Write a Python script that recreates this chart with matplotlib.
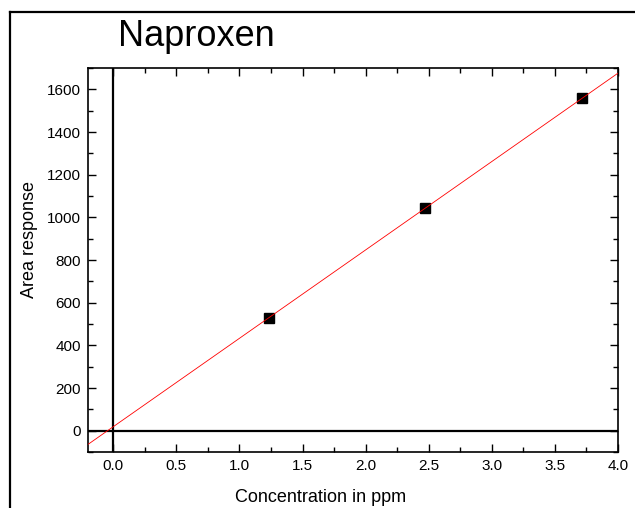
import numpy as np
import matplotlib
matplotlib.use("Agg")
import matplotlib.pyplot as plt
from matplotlib.lines import Line2D
from matplotlib.ticker import MultipleLocator

plt.rcParams['font.family'] = ['Liberation Sans', 'DejaVu Sans']

# données
conc = [1.233, 2.473, 3.714]
area = [530, 1042, 1558]
title = "Naproxen"
xlabel = "Concentration in ppm"
ylabel = "Area response"

# droite de régression
slope, intercept = np.polyfit(conc, area, 1)
xfit = np.array([-0.2, 4.0])
yfit = slope * xfit + intercept

fig = plt.figure(figsize=(6.35, 5.08), dpi=100)
ax = fig.add_axes([88/635, 56/508, 530/635, 384/508])

ax.plot(conc, area, 's', color='black', markersize=7, zorder=3)
ax.plot(xfit, yfit, color='red', lw=0.6, zorder=4)
ax.axhline(0, color='black', lw=1.6, zorder=2)
ax.axvline(0, color='black', lw=1.6, zorder=2)

ax.set_xlim(-0.2, 4.0)
ax.set_ylim(-100, 1700)
ax.xaxis.set_major_locator(MultipleLocator(0.5))
ax.xaxis.set_minor_locator(MultipleLocator(0.25))
ax.yaxis.set_major_locator(MultipleLocator(200))
ax.yaxis.set_minor_locator(MultipleLocator(100))
ax.xaxis.set_major_formatter(plt.FuncFormatter(lambda v, p: f"{v:.1f}"))

ax.tick_params(which='both', direction='in', top=True, right=True,
               width=1, labelsize=11, colors='black')
ax.tick_params(which='major', length=6, pad=5)
ax.tick_params(which='minor', length=3.5)
for s in ax.spines.values():
    s.set_linewidth(1.2)

# textes
fig.text(118/635, 1 - 46/508, title, fontsize=26, ha='left', va='baseline')
fig.text(321/635, 1 - 502/508, xlabel, fontsize=13, ha='center', va='baseline')
fig.text(29/635, 1 - 240/508, ylabel, fontsize=13, rotation=90,
         ha='center', va='center')

# cadre extérieur
fig.add_artist(Line2D([10/635, 1], [1 - 12/508, 1 - 12/508],
                      transform=fig.transFigure, color='black', lw=1.6))
fig.add_artist(Line2D([10/635, 10/635], [0, 1 - 12/508],
                      transform=fig.transFigure, color='black', lw=1.6))

fig.savefig("out.png", dpi=100)
